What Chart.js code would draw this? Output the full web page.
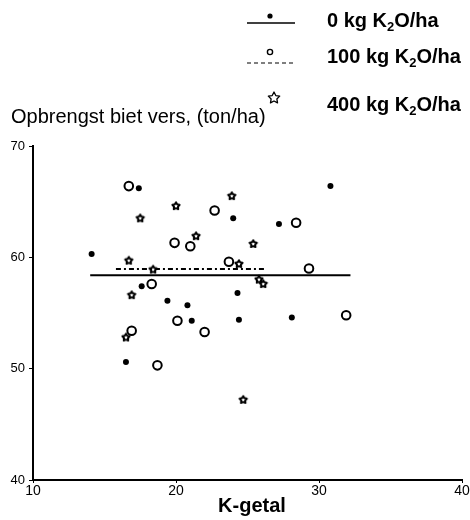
<!DOCTYPE html>
<html>
<head>
<meta charset="utf-8">
<script src="https://cdn.jsdelivr.net/npm/chart.js@4.4.1/dist/chart.umd.min.js"></script>
<style>
  html, body { margin: 0; padding: 0; background: #fff; }
  #vak { width: 470px; height: 520px; position: relative; }
</style>
</head>
<body>
<div id="vak"><canvas id="grafico" width="470" height="520"></canvas></div>
<script>
// K-getal (x) en opbrengst biet vers (ton/ha) per K2O-trap
const kGetal0 = [14.1, 17.4, 24.0, 30.8, 27.2, 17.6, 24.3, 19.4, 20.8, 21.1, 24.4, 28.1, 16.5];
const opbrengst0 = [60.3, 66.2, 63.5, 66.4, 63.0, 57.4, 56.8, 56.1, 55.7, 54.3, 54.4, 54.6, 50.6];

const kGetal100 = [16.7, 22.7, 28.4, 19.9, 21.0, 23.7, 29.3, 18.3, 20.1, 31.9, 16.9, 22.0, 18.7];
const opbrengst100 = [66.4, 64.2, 63.1, 61.3, 61.0, 59.6, 59.0, 57.6, 54.3, 54.8, 53.4, 53.3, 50.3];

const kGetal400 = [23.9, 20.0, 17.5, 21.4, 25.4, 16.7, 24.4, 18.4, 25.8, 26.1, 16.9, 16.5, 24.7];
const opbrengst400 = [65.5, 64.6, 63.5, 61.9, 61.2, 59.7, 59.4, 58.9, 58.0, 57.6, 56.6, 52.8, 47.2];

// gemiddelde-lijnen
const lijn0X = [14.0, 32.2];
const lijn0Y = [58.4, 58.4];
const lijn100X = [15.8, 26.2];
const lijn100Y = [58.95, 58.95];

const xTicks = [10, 20, 30, 40];
const yTicks = [40, 50, 60, 70];
const legendaTrappen = ['0', '100', '400'];

const punten = (xs, ys) => xs.map((x, i) => ({ x: x, y: ys[i] }));

function maakSter(r, inner, lw) {
  const s = Math.ceil(r * 2 + lw * 2 + 2);
  const c = document.createElement('canvas');
  c.width = s; c.height = s;
  const g = c.getContext('2d');
  g.translate(s / 2, s / 2);
  tekenSter(g, 0, 0, r, inner, lw);
  return c;
}

function tekenSter(g, cx, cy, r, inner, lw) {
  g.beginPath();
  for (let i = 0; i < 10; i++) {
    const rad = i % 2 ? r * inner : r;
    const a = -Math.PI / 2 + i * Math.PI / 5;
    g.lineTo(cx + rad * Math.cos(a), cy + rad * Math.sin(a));
  }
  g.closePath();
  g.lineWidth = lw;
  g.strokeStyle = '#000';
  g.lineJoin = 'round';
  g.stroke();
}

const sterPunt = maakSter(3.8, 0.55, 2);

// tekst met K2O (subscript 2)
function tekenLabel(g, x, y, trap) {
  const hoofd = 'bold 20px "Liberation Sans", Arial, sans-serif';
  const sub = 'bold 13px "Liberation Sans", Arial, sans-serif';
  g.textAlign = 'left';
  g.textBaseline = 'alphabetic';
  g.fillStyle = '#000';
  g.font = hoofd;
  let t = trap + ' kg K';
  g.fillText(t, x, y);
  x += g.measureText(t).width;
  g.font = sub;
  g.fillText('2', x, y + 4);
  x += g.measureText('2').width;
  g.font = hoofd;
  g.fillText('O/ha', x, y);
}

const extraTekst = {
  id: 'extraTekst',
  afterDraw(chart) {
    const g = chart.ctx;
    g.save();
    // legenda
    g.strokeStyle = '#000';
    g.fillStyle = '#000';
    g.lineWidth = 1.5;
    g.beginPath(); g.moveTo(247, 23); g.lineTo(295, 23); g.stroke();
    g.beginPath(); g.arc(270, 16, 2.6, 0, Math.PI * 2); g.fill();

    g.lineWidth = 1.2;
    g.setLineDash([4, 3]);
    g.beginPath(); g.moveTo(247, 63); g.lineTo(295, 63); g.stroke();
    g.setLineDash([]);
    g.lineWidth = 1.4;
    g.beginPath(); g.arc(270, 52, 2.6, 0, Math.PI * 2); g.stroke();

    tekenSter(g, 274, 98, 6, 0.5, 1.3);

    tekenLabel(g, 327, 27, legendaTrappen[0]);
    tekenLabel(g, 327, 63, legendaTrappen[1]);
    tekenLabel(g, 327, 111, legendaTrappen[2]);

    // titel y-as
    g.font = '20px "Liberation Sans", Arial, sans-serif';
    g.textAlign = 'left';
    g.fillText('Opbrengst biet vers, (ton/ha)', 11, 123);

    // titel x-as
    g.font = 'bold 20px "Liberation Sans", Arial, sans-serif';
    g.textAlign = 'center';
    g.fillText('K-getal', 252, 512);
    g.restore();
  }
};

const ctx = document.getElementById('grafico').getContext('2d');
const chart = new Chart(ctx, {
  type: 'scatter',
  data: {
    datasets: [
      {
        label: 'lijn 0',
        data: punten(lijn0X, lijn0Y),
        showLine: true,
        borderColor: '#000',
        borderWidth: 2,
        pointRadius: 0
      },
      {
        label: 'lijn 100',
        data: punten(lijn100X, lijn100Y),
        showLine: true,
        borderColor: '#000',
        borderWidth: 1.8,
        borderDash: [5, 3, 2, 3],
        pointRadius: 0
      },
      {
        label: '0 kg K2O/ha',
        data: punten(kGetal0, opbrengst0),
        pointStyle: 'circle',
        pointRadius: 3,
        backgroundColor: '#000',
        borderColor: '#000',
        borderWidth: 0
      },
      {
        label: '100 kg K2O/ha',
        data: punten(kGetal100, opbrengst100),
        pointStyle: 'circle',
        pointRadius: 4.3,
        backgroundColor: '#fff',
        borderColor: '#000',
        borderWidth: 2
      },
      {
        label: '400 kg K2O/ha',
        data: punten(kGetal400, opbrengst400),
        pointStyle: sterPunt
      }
    ]
  },
  options: {
    responsive: false,
    animation: false,
    events: [],
    layout: { padding: { top: 146, right: 8, left: 0, bottom: 0 } },
    plugins: {
      legend: { display: false },
      tooltip: { enabled: false }
    },
    scales: {
      x: {
        type: 'linear',
        min: 10,
        max: 40,
        afterFit: (s) => { s.height = 40; },
        afterBuildTicks: (s) => { s.ticks = xTicks.map(v => ({ value: v })); },
        ticks: {
          color: '#000',
          padding: 0,
          font: { family: '"Liberation Sans", Arial, sans-serif', size: 14 }
        },
        grid: { drawOnChartArea: false, tickLength: 3, color: '#000', tickWidth: 1 },
        border: { color: '#000', width: 2 }
      },
      y: {
        type: 'linear',
        min: 40,
        max: 70,
        afterFit: (s) => { s.width = 33; },
        afterBuildTicks: (s) => { s.ticks = yTicks.map(v => ({ value: v })); },
        ticks: {
          color: '#000',
          padding: 4,
          font: { family: '"Liberation Sans", Arial, sans-serif', size: 13 }
        },
        grid: { drawOnChartArea: false, tickLength: 4, color: '#000', tickWidth: 1 },
        border: { color: '#000', width: 2 }
      }
    }
  },
  plugins: [extraTekst]
});
</script>
</body>
</html>
